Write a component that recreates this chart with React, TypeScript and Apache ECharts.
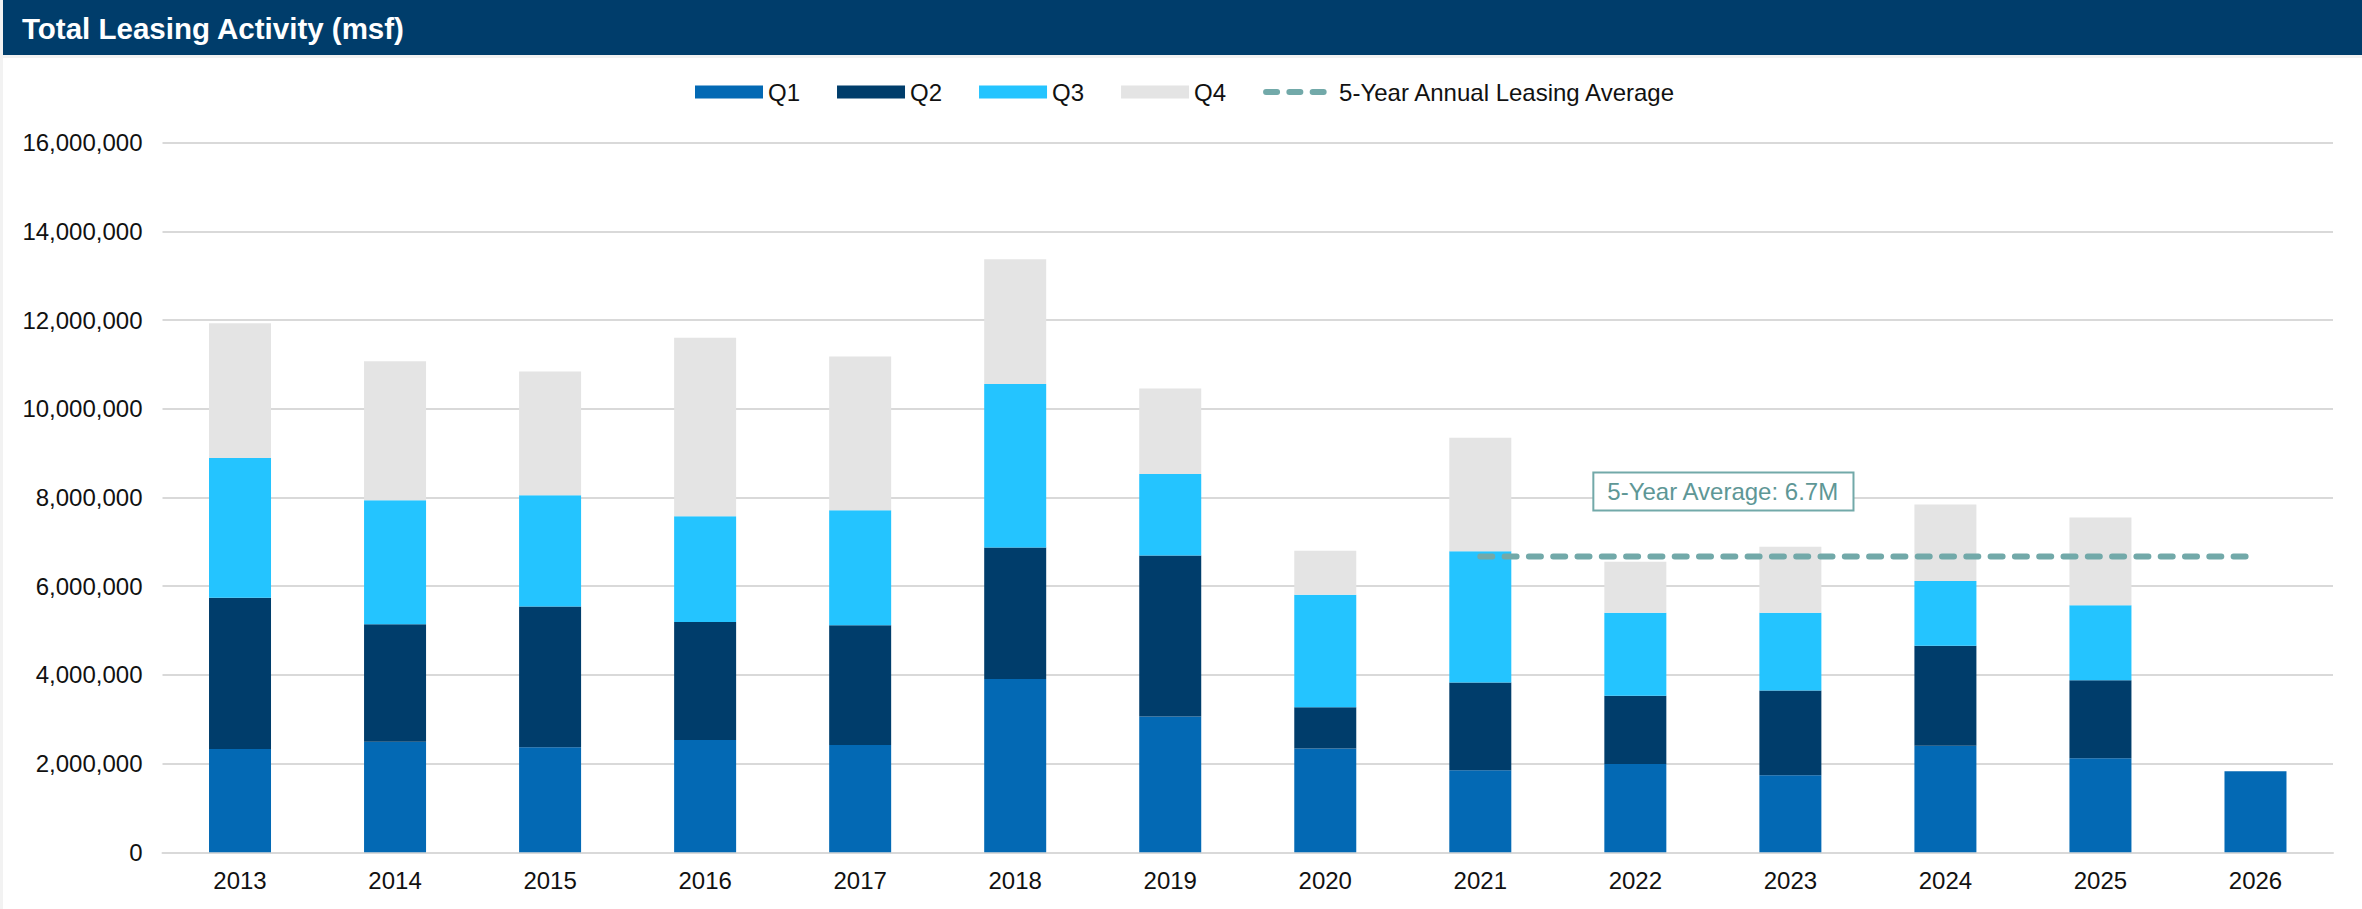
import React, { useEffect, useRef } from "react";
import * as echarts from "echarts";

const TITLE = "Total Leasing Activity (msf)";
const YEARS = ["2013", "2014", "2015", "2016", "2017", "2018", "2019", "2020", "2021", "2022", "2023", "2024", "2025", "2026"];
const Q1 = [2330000, 2490000, 2370000, 2530000, 2420000, 3910000, 3060000, 2340000, 1850000, 1990000, 1740000, 2400000, 2120000, 1830000];
const Q2 = [3410000, 2650000, 3170000, 2660000, 2700000, 2960000, 3630000, 930000, 1980000, 1540000, 1910000, 2260000, 1760000, null];
const Q3 = [3150000, 2800000, 2510000, 2390000, 2590000, 3690000, 1840000, 2540000, 2960000, 1870000, 1750000, 1460000, 1690000, null];
const Q4 = [3040000, 3130000, 2790000, 4020000, 3470000, 2810000, 1930000, 990000, 2560000, 1150000, 1490000, 1720000, 1980000, null];
const AVG_LINE = [null, null, null, null, null, null, null, null, 6670000, 6670000, 6670000, 6670000, 6670000, 6670000];
const AVG_LABEL = "5-Year Average: 6.7M";
const AVG_LABEL_YEAR = "2022";
const AVG_VALUE = 6670000;
const SERIES_NAMES = ["Q1", "Q2", "Q3", "Q4", "5-Year Annual Leasing Average"];
const Y_MIN = 0;
const Y_MAX = 16000000;
const Y_INTERVAL = 2000000;

const COLORS = ["#0369B4", "#003D6B", "#24C4FF", "#E4E4E4"];
const AVG_COLOR = "#72A9A9";
const FONT = "'Liberation Sans', Arial, sans-serif";

export default function App() {
  const ref = useRef<HTMLDivElement>(null);

  useEffect(() => {
    if (!ref.current) return;
    const chart = echarts.init(ref.current, null, { renderer: "svg" });
    const quarters = [Q1, Q2, Q3, Q4];
    const barSeries = quarters.map((d, i) => ({
      name: SERIES_NAMES[i],
      type: "bar",
      stack: "total",
      barWidth: 62,
      data: d,
      itemStyle: { color: COLORS[i] },
      emphasis: { disabled: true },
    }));

    const baseGraphic: any[] = [
      { type: "rect", shape: { x: 3, y: 0, width: 2359, height: 55 }, style: { fill: "#003D6B" }, z: -10, silent: true },
      { type: "rect", shape: { x: 3, y: 58, width: 2359, height: 851 }, style: { fill: "#FFFFFF" }, z: -10, silent: true },
      {
        type: "text",
        x: 22,
        y: 28,
        style: { text: TITLE, fill: "#FFFFFF", font: `bold 29.5px ${FONT}`, textVerticalAlign: "middle", verticalAlign: "middle" },
        z: 10,
      },
    ];

    chart.setOption({
      animation: false,
      backgroundColor: "#F2F2F2",
      textStyle: { fontFamily: FONT },
      grid: { left: 162.5, right: 29, top: 142.7, bottom: 56.7, containLabel: false },
      legend: {
        data: [
          { name: "Q1", icon: "rect" },
          { name: "Q2", icon: "rect" },
          { name: "Q3", icon: "rect" },
          { name: "Q4", icon: "rect" },
          {
            name: "5-Year Annual Leasing Average",
            itemStyle: { opacity: 0 },
            lineStyle: { color: AVG_COLOR, width: 6, type: [11, 12.3], cap: "round" },
          },
        ],
        left: 690,
        top: 75,
        itemWidth: 68,
        itemHeight: 13,
        itemGap: 37,
        textStyle: { fontSize: 24, color: "#111", fontFamily: FONT },
        selectedMode: false,
      },
      xAxis: {
        type: "category",
        data: YEARS,
        axisLine: { show: true, lineStyle: { color: "#D9D9D9", width: 2 } },
        axisTick: { show: false },
        axisLabel: { color: "#111", fontSize: 24, margin: 16, fontFamily: FONT },
      },
      yAxis: {
        type: "value",
        min: Y_MIN,
        max: Y_MAX,
        interval: Y_INTERVAL,
        axisLine: { show: false },
        axisTick: { show: false },
        splitLine: { lineStyle: { color: "#D9D9D9", width: 2 } },
        axisLabel: {
          color: "#111",
          fontSize: 24,
          margin: 20,
          fontFamily: FONT,
          formatter: (v: number) => v.toLocaleString("en-US"),
        },
      },
      series: [
        ...barSeries,
        {
          name: SERIES_NAMES[4],
          type: "line",
          data: AVG_LINE,
          symbol: "none",
          showSymbol: false,
          connectNulls: false,
          itemStyle: { color: AVG_COLOR },
          lineStyle: { color: AVG_COLOR, width: 6, type: [12, 12.3], cap: "round" },
          emphasis: { disabled: true },
          z: 5,
        },
      ],
      graphic: baseGraphic,
    });

    const pt = chart.convertToPixel({ xAxisIndex: 0, yAxisIndex: 0 }, [AVG_LABEL_YEAR, AVG_VALUE]) as number[];
    if (pt) {
      chart.setOption({
        graphic: [
          ...baseGraphic,
          {
            type: "text",
            x: pt[0] - 41,
            y: pt[1] - 83,
            z: 10,
            style: {
              text: AVG_LABEL,
              fill: "#5E9796",
              font: `24px ${FONT}`,
              backgroundColor: "#FFFFFF",
              borderColor: "#72A9A9",
              borderWidth: 2,
              padding: [6, 13, 6, 13],
            },
          },
        ],
      });
    }

    return () => chart.dispose();
  }, []);

  return <div ref={ref} style={{ position: "fixed", left: 0, top: 0, width: 2362, height: 909 }} />;
}
